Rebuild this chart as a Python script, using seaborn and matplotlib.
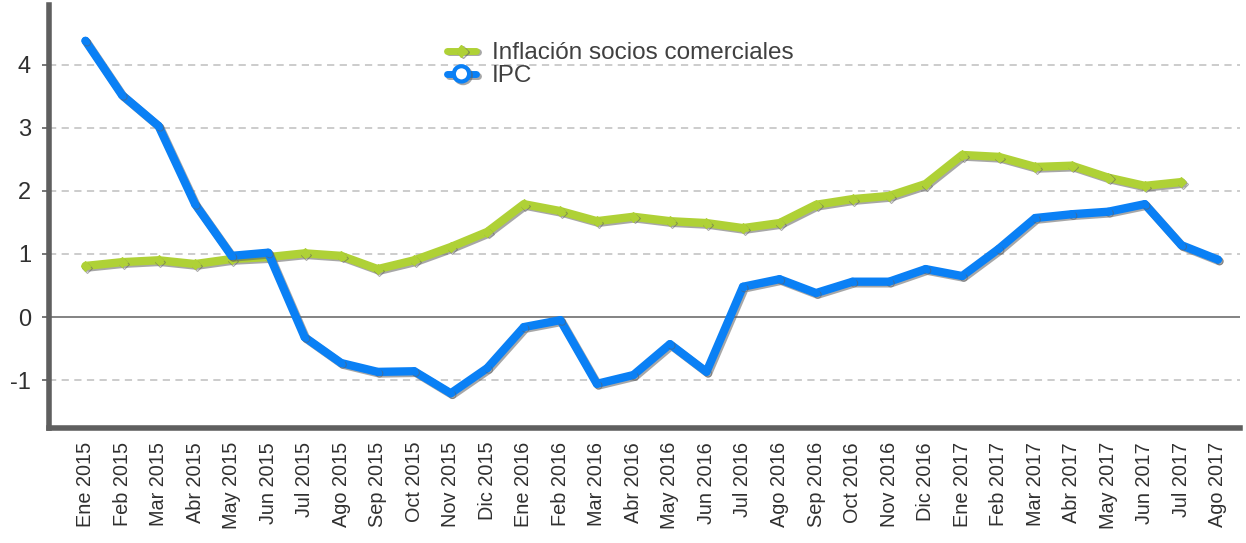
import numpy as np
import pandas as pd
import matplotlib
matplotlib.use("Agg")
import matplotlib.pyplot as plt
import matplotlib.patheffects as pe
from matplotlib.lines import Line2D
import seaborn as sns

months = ["Ene 2015", "Feb 2015", "Mar 2015", "Abr 2015", "May 2015", "Jun 2015",
          "Jul 2015", "Ago 2015", "Sep 2015", "Oct 2015", "Nov 2015", "Dic 2015",
          "Ene 2016", "Feb 2016", "Mar 2016", "Abr 2016", "May 2016", "Jun 2016",
          "Jul 2016", "Ago 2016", "Sep 2016", "Oct 2016", "Nov 2016", "Dic 2016",
          "Ene 2017", "Feb 2017", "Mar 2017", "Abr 2017", "May 2017", "Jun 2017",
          "Jul 2017", "Ago 2017"]

socios = [0.81, 0.87, 0.90, 0.84, 0.92, 0.95, 1.01, 0.97, 0.76, 0.90, 1.11, 1.35,
          1.79, 1.68, 1.52, 1.59, 1.52, 1.49, 1.41, 1.49, 1.78, 1.87, 1.92, 2.11,
          2.57, 2.54, 2.38, 2.40, 2.21, 2.08, 2.14, np.nan]

ipc = [4.38, 3.52, 3.03, 1.79, 0.97, 1.02, -0.32, -0.73, -0.87, -0.86, -1.21, -0.81,
       -0.16, -0.05, -1.06, -0.92, -0.43, -0.87, 0.48, 0.60, 0.38, 0.56, 0.56, 0.76,
       0.65, 1.08, 1.57, 1.63, 1.67, 1.79, 1.14, 0.91]

series_names = ["Inflación socios comerciales", "IPC"]
yticks = [-1, 0, 1, 2, 3, 4]

pos = np.arange(len(months))
df = pd.DataFrame({
    "pos": np.concatenate([pos, pos]),
    "valor": socios + ipc,
    "serie": [series_names[0]] * len(months) + [series_names[1]] * len(months),
})

sns.set_theme(style="white")
plt.rcParams["font.family"] = ["Liberation Sans", "DejaVu Sans"]

fig = plt.figure(figsize=(12.46, 5.43), dpi=100)
ax = fig.add_axes([0.0393, 0.2118, 0.9557, 0.7792])

palette = {series_names[0]: "#AFD136", series_names[1]: "#0A80F5"}
sns.lineplot(data=df, x="pos", y="valor", hue="serie", style="serie",
             palette=palette, markers={series_names[0]: "D", series_names[1]: "o"},
             dashes=False, linewidth=6, markersize=5,
             ax=ax, legend=False, sort=False)

shadow = [pe.SimpleLineShadow(offset=(1.2, -1.2), shadow_color="#606060", alpha=0.55),
          pe.Normal()]
for ln in ax.get_lines():
    c = ln.get_color()
    ln.set_markerfacecolor(c)
    ln.set_markeredgecolor(c)
    ln.set_path_effects(shadow)
    ln.set_solid_joinstyle("round")
    ln.set_solid_capstyle("round")
    ln.set_zorder(3)

# horizontal reference lines
for y in yticks:
    if y == 0:
        ax.axhline(0, color="#7a7a7a", lw=1.3, zorder=1)
    else:
        ax.axhline(y, color="#c8c8c8", lw=1.3, ls=(0, (4, 3)), zorder=1)

ax.set_xlim(-1, 31.6)
ax.set_ylim(-1.76, 4.95)
ax.set_xticks(pos)
ax.set_xticklabels(months, rotation=90, fontsize=14.3, color="#303030")
ax.set_yticks(yticks)
ax.set_yticklabels([str(v) for v in yticks], fontsize=17, color="#303030")
ax.tick_params(axis="x", length=0, pad=10)
ax.tick_params(axis="y", length=5, width=1.2, color="#5f5f5f", pad=8,
               direction="out", left=True)
ax.set_xlabel("")
ax.set_ylabel("")

for side in ["top", "right"]:
    ax.spines[side].set_visible(False)
for side in ["left", "bottom"]:
    ax.spines[side].set_color("#5f5f5f")
    ax.spines[side].set_linewidth(4)

# legend
handles = [
    Line2D([], [], color=palette[series_names[0]], lw=5, marker="D", markersize=6,
           path_effects=shadow),
    Line2D([], [], color=palette[series_names[1]], lw=5, marker="o", markersize=11,
           markerfacecolor="white", markeredgewidth=3, path_effects=shadow),
]
leg = ax.legend(handles, series_names, loc="upper left", bbox_to_anchor=(0.326, 0.935),
                frameon=False, fontsize=17.5, handlelength=1.2, handletextpad=0.65,
                labelspacing=0.05, borderaxespad=0)
for t in leg.get_texts():
    t.set_color("#404040")

fig.savefig("out.png", dpi=100)
